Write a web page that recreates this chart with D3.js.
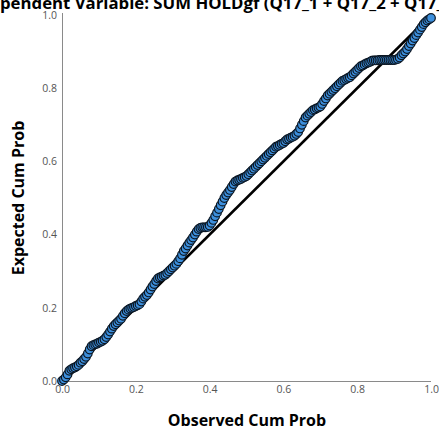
<!DOCTYPE html>
<html><head><meta charset="utf-8">
<script src="https://cdn.jsdelivr.net/npm/d3@7"></script>
<style>body{margin:0;background:#fff;overflow:hidden}svg{display:block}</style>
</head><body>
<svg id="c" width="439" height="433"></svg>
<script>
const titleText = "Dependent Variable: SUM HOLDgf (Q17_1 + Q17_2 + Q17_3)";
const xTitle = "Observed Cum Prob";
const yTitle = "Expected Cum Prob";
const tickValues = [0, 0.2, 0.4, 0.6, 0.8, 1.0];
const refLine = [[0, 0], [1, 1]];
const observed = [
0.000,0.005,0.010,0.015,0.020,0.025,0.030,0.035,0.040,0.045,
0.050,0.055,0.060,0.065,0.070,0.075,0.080,0.085,0.090,0.095,
0.100,0.105,0.110,0.115,0.120,0.125,0.130,0.135,0.140,0.145,
0.150,0.155,0.160,0.165,0.170,0.175,0.180,0.185,0.190,0.195,
0.200,0.205,0.210,0.215,0.220,0.225,0.230,0.235,0.240,0.245,
0.250,0.255,0.260,0.265,0.270,0.275,0.280,0.285,0.290,0.295,
0.300,0.305,0.310,0.315,0.320,0.325,0.330,0.335,0.340,0.345,
0.350,0.355,0.360,0.365,0.370,0.375,0.380,0.385,0.390,0.395,
0.400,0.405,0.410,0.415,0.420,0.425,0.430,0.435,0.440,0.445,
0.450,0.455,0.460,0.465,0.470,0.475,0.480,0.485,0.490,0.495,
0.500,0.505,0.510,0.515,0.520,0.525,0.530,0.535,0.540,0.545,
0.550,0.555,0.560,0.565,0.570,0.575,0.580,0.585,0.590,0.595,
0.600,0.605,0.610,0.615,0.620,0.625,0.630,0.635,0.640,0.645,
0.650,0.655,0.660,0.665,0.670,0.675,0.680,0.685,0.690,0.695,
0.700,0.705,0.710,0.715,0.720,0.725,0.730,0.735,0.740,0.745,
0.750,0.755,0.760,0.765,0.770,0.775,0.780,0.785,0.790,0.795,
0.800,0.805,0.810,0.815,0.820,0.825,0.830,0.835,0.840,0.845,
0.850,0.855,0.860,0.865,0.870,0.875,0.880,0.885,0.890,0.895,
0.900,0.905,0.910,0.915,0.920,0.925,0.930,0.935,0.940,0.945,
0.950,0.955,0.960,0.965,0.970,0.975,0.980,0.985,0.990,0.995,
1.000];
const expected = [
0.000,0.004,0.010,0.018,0.028,0.032,0.035,0.037,0.040,0.044,
0.050,0.054,0.060,0.066,0.075,0.086,0.095,0.098,0.100,0.102,
0.105,0.107,0.110,0.114,0.120,0.127,0.135,0.143,0.150,0.155,
0.160,0.165,0.170,0.178,0.185,0.191,0.195,0.198,0.200,0.202,
0.205,0.207,0.210,0.217,0.225,0.230,0.235,0.242,0.250,0.258,
0.265,0.273,0.280,0.283,0.285,0.288,0.290,0.295,0.300,0.305,
0.310,0.315,0.320,0.327,0.335,0.345,0.355,0.362,0.370,0.378,
0.385,0.392,0.400,0.408,0.415,0.418,0.420,0.420,0.420,0.421,
0.425,0.432,0.440,0.450,0.460,0.470,0.480,0.490,0.500,0.508,
0.515,0.522,0.530,0.538,0.545,0.548,0.550,0.552,0.555,0.557,
0.560,0.565,0.570,0.575,0.580,0.585,0.590,0.595,0.600,0.605,
0.610,0.615,0.620,0.625,0.630,0.635,0.640,0.642,0.645,0.648,
0.650,0.655,0.660,0.662,0.665,0.667,0.670,0.675,0.680,0.690,
0.700,0.710,0.720,0.725,0.730,0.735,0.740,0.742,0.745,0.747,
0.750,0.757,0.765,0.772,0.780,0.785,0.790,0.795,0.800,0.805,
0.810,0.815,0.820,0.822,0.825,0.828,0.830,0.835,0.840,0.845,
0.850,0.855,0.860,0.862,0.865,0.868,0.870,0.872,0.875,0.876,
0.876,0.876,0.877,0.877,0.877,0.877,0.877,0.877,0.877,0.877,
0.877,0.878,0.880,0.884,0.890,0.895,0.900,0.907,0.915,0.922,
0.930,0.937,0.945,0.952,0.960,0.967,0.975,0.980,0.985,0.988,
0.992];

const svg = d3.select("#c");
const x = d3.scaleLinear().domain([0, 1]).range([62, 431]);
const y = d3.scaleLinear().domain([0, 1]).range([381, 15]);
const FONT = "'Open Sans', sans-serif";

// title (clipped at top/left like the reference)
const t = svg.append("text").attr("font-family", FONT)
  .attr("font-weight", "bold").attr("font-size", 16).attr("fill", "#000").text("De");
const deW = t.node().getComputedTextLength();
t.text("pendent Variable: SUM HOLDgf (Q17_1 + Q17_2 + Q17_");
const visW = t.node().getComputedTextLength();
const fs = 16 * 444 / visW;
t.attr("font-size", fs).text(titleText).attr("x", -deW * fs / 16).attr("y", 9);

// axes
const ax = svg.append("g").attr("transform", "translate(0,381)")
  .call(d3.axisBottom(x).tickValues(tickValues).tickSize(0).tickPadding(5).tickFormat(d3.format(".1f")));
const ay = svg.append("g").attr("transform", "translate(62,0)")
  .call(d3.axisLeft(y).tickValues(tickValues).tickSize(0).tickPadding(5).tickFormat(d3.format(".1f")));
[ax, ay].forEach(g => {
  g.select(".domain").attr("stroke", "#8a8a8a").attr("stroke-width", 1);
  g.selectAll("text").attr("font-family", FONT).attr("font-size", 10.5).attr("fill", "#555");
});
ay.select(".domain").attr("d", "M0.5,13V381.5");
ax.select(".domain").attr("d", "M62,0.5H431");

// axis titles
svg.append("text").attr("x", 247).attr("y", 426).attr("text-anchor", "middle")
  .attr("font-family", FONT).attr("font-weight", "bold").attr("font-size", 16).text(xTitle);
svg.append("text").attr("transform", "translate(24,198) rotate(-90)").attr("text-anchor", "middle")
  .attr("font-family", FONT).attr("font-weight", "bold").attr("font-size", 16).text(yTitle);

// reference line
svg.append("line").attr("x1", x(refLine[0][0])).attr("y1", y(refLine[0][1]))
  .attr("x2", x(refLine[1][0])).attr("y2", y(refLine[1][1]))
  .attr("stroke", "#000").attr("stroke-width", 2.5);

// points
svg.append("g").selectAll("circle").data(observed.map((o, i) => [o, expected[i]])).join("circle")
  .attr("cx", d => x(d[0])).attr("cy", d => y(d[1])).attr("r", 4.3)
  .attr("fill", "#3d8fdc").attr("stroke", "#0b1622").attr("stroke-width", 1.2);
</script>
</body></html>
